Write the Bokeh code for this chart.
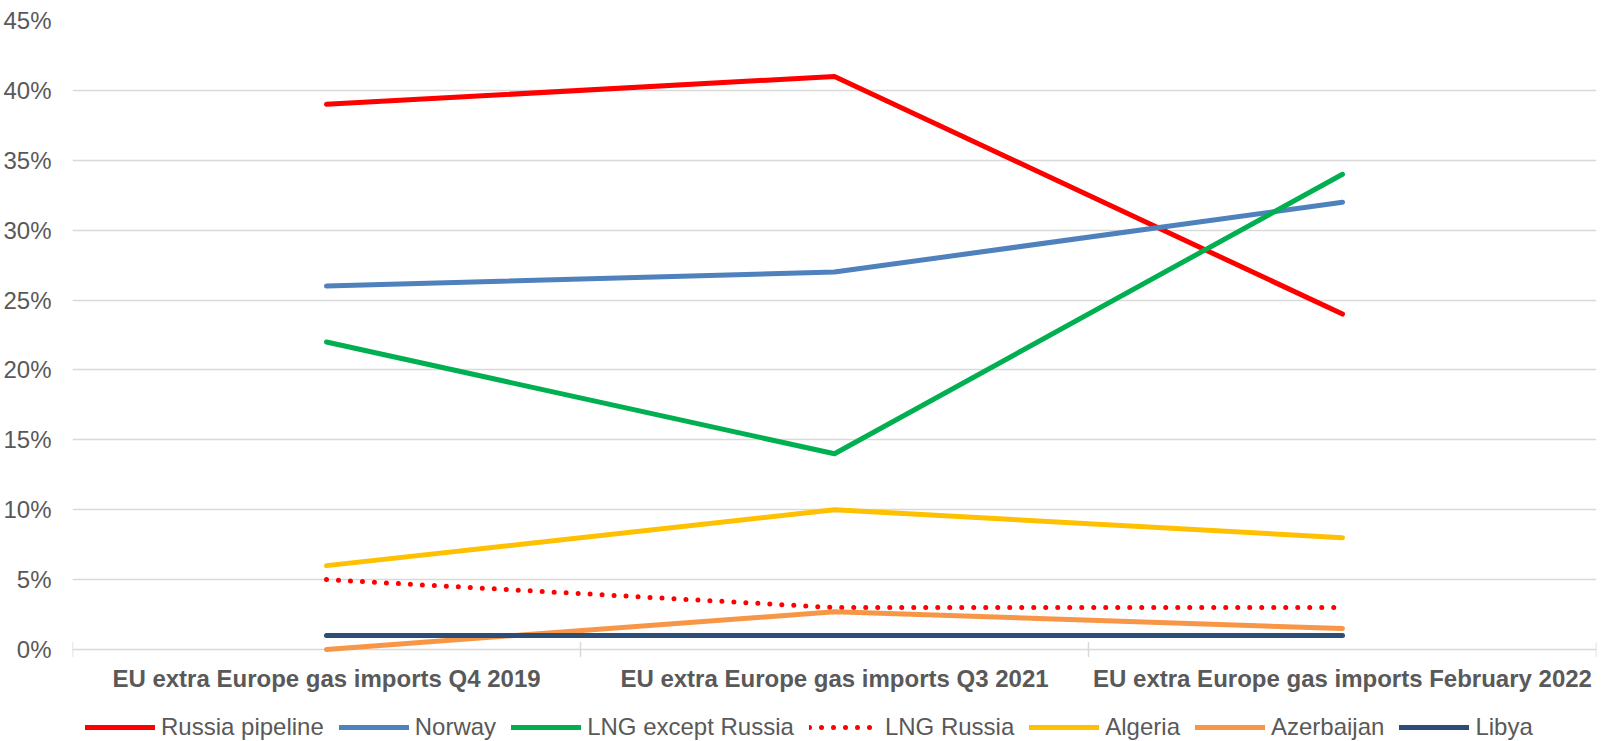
import math
from bokeh.plotting import figure
from bokeh.models import Range1d, FixedTicker, NumeralTickFormatter, Legend, LegendItem
from bokeh.core.properties import value
from bokeh.embed import file_html
from bokeh.resources import INLINE

categories = [
    "EU extra Europe gas imports Q4 2019",
    "EU extra Europe gas imports Q3 2021",
    "EU extra Europe gas imports February 2022",
]
russia_pipeline = [0.39, 0.41, 0.24]
norway = [0.26, 0.27, 0.32]
lng_except_russia = [0.22, 0.14, 0.34]
lng_russia = [0.05, 0.03, 0.03]
algeria = [0.06, 0.10, 0.08]
azerbaijan = [0.0, 0.027, 0.015]
libya = [0.01, 0.01, 0.01]
y_ticks = [0.0, 0.05, 0.10, 0.15, 0.20, 0.25, 0.30, 0.35, 0.40, 0.45]

series = [
    ("Russia pipeline", russia_pipeline, "#FF0000", "solid"),
    ("Norway", norway, "#4F81BD", "solid"),
    ("LNG except Russia", lng_except_russia, "#00B050", "solid"),
    ("LNG Russia", lng_russia, "#FF0000", "0 12"),
    ("Algeria", algeria, "#FFC000", "solid"),
    ("Azerbaijan", azerbaijan, "#F79646", "solid"),
    ("Libya", libya, "#2C4D75", "solid"),
]

xs = [i + 0.5 for i in range(len(categories))]
bounds = list(range(len(categories) + 1))
TXT = "#595959"
GRID = "#d9d9d9"
FONT = "Liberation Sans"

# frame extends below 0 so the category labels and legend sit inside it
H = 741
TOP = 20
PX_PER_UNIT = 629 / 0.45
y_lo = 0.45 - (H - TOP) / PX_PER_UNIT

p = figure(width=1598, height=H, output_backend="svg", toolbar_location=None,
           x_range=Range1d(0, len(categories)), y_range=Range1d(y_lo, 0.45),
           x_axis_location=None,
           min_border_left=72, min_border_top=TOP, min_border_right=2, min_border_bottom=0)
p.outline_line_color = None
p.background_fill_color = "white"
p.border_fill_color = "white"

p.xgrid.grid_line_color = None
p.ygrid.grid_line_color = GRID
p.ygrid.grid_line_width = 1.5

p.yaxis.ticker = FixedTicker(ticks=y_ticks)
p.yaxis.formatter = NumeralTickFormatter(format="0%")
p.yaxis.axis_line_color = None
p.yaxis.major_tick_line_color = None
p.yaxis.major_tick_in = 0
p.yaxis.major_tick_out = 0
p.yaxis.minor_tick_line_color = None
p.yaxis.minor_tick_in = 0
p.yaxis.minor_tick_out = 0
p.yaxis.major_label_text_font = FONT
p.yaxis.major_label_text_font_size = "24px"
p.yaxis.major_label_text_color = TXT
p.yaxis.major_label_standoff = 21

# category boundary tick marks on the 0% line
p.scatter(x=bounds, y=[0] * len(bounds), marker="dash", size=15, angle=math.pi / 2,
          line_color=GRID, line_width=1.5)

# category labels
p.text(x=xs, y=[0] * len(xs), text=categories, y_offset=29,
       text_font=value(FONT), text_font_size=value("24px"), text_font_style="bold",
       text_color=TXT, text_align="center", text_baseline="middle")

items = []
for name, vals, color, dash in series:
    r = p.line(xs, vals, line_color=color, line_width=5, line_dash=dash,
               line_cap="round", line_join="round")
    items.append(LegendItem(label=name, renderers=[r]))

legend = Legend(items=items, orientation="horizontal", location=(13, 0),
                glyph_width=70, glyph_height=26, label_height=26, label_standoff=6, spacing=15,
                padding=0, margin=0, border_line_color=None, background_fill_alpha=0,
                label_text_font=FONT, label_text_font_size="24px", label_text_color=TXT)
p.add_layout(legend, "center")

open("out.html", "w").write(file_html(p, INLINE))
